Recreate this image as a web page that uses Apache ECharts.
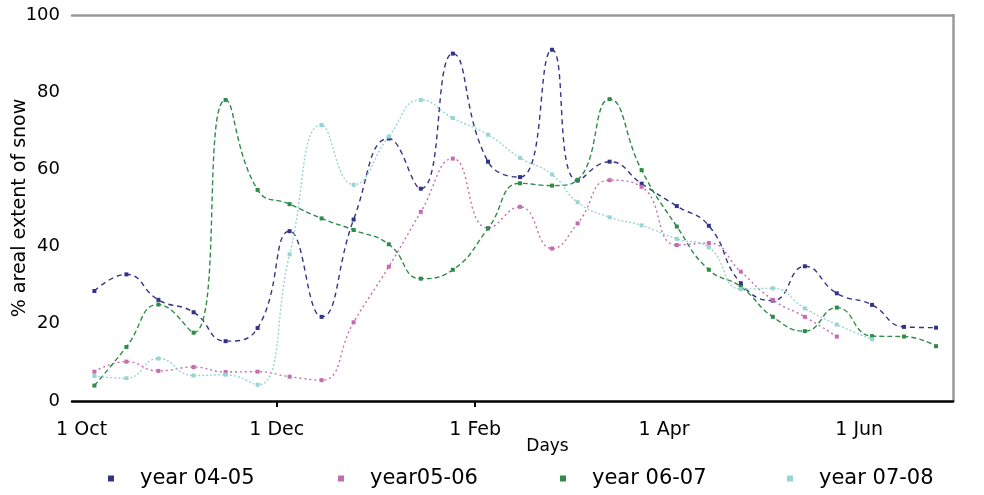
<!DOCTYPE html>
<html>
<head>
<meta charset="utf-8">
<script src="https://cdn.jsdelivr.net/npm/echarts@6/dist/echarts.min.js"></script>
<style>html,body{margin:0;padding:0;background:#fff}#c{width:984px;height:495px}</style>
</head>
<body>
<div id="c"></div>
<script>
// Dekad dates (day of month + month), Oct to Jun
const dates = ['5 Oct','15 Oct','25 Oct','5 Nov','15 Nov','25 Nov','5 Dec','15 Dec','25 Dec',
  '5 Jan','15 Jan','25 Jan','5 Feb','15 Feb','25 Feb','5 Mar','15 Mar','25 Mar',
  '5 Apr','15 Apr','25 Apr','5 May','15 May','25 May','5 Jun','15 Jun','25 Jun'];
const year0405 = [28.5,32.8,26.2,23,15.5,18.9,44,21.8,47,68,55,90,62,58,91,57.1,62,56.3,50.5,45.4,30.5,26,34.9,27.9,24.9,19.2,19];
const year0506 = [7.6,10.2,7.8,8.8,7.5,7.6,6.3,5.4,20.4,34.8,49,62.8,44.8,50.3,39.5,46,57.2,55.5,40.4,40.9,33.5,26.2,21.8,16.7,null,null,null];
const year0607 = [4,14,25,17.7,78,54.7,51,47.3,44.3,40.6,31.7,34,44.7,56.4,55.8,57.3,78.2,59.8,45.2,34,29.6,21.8,18.1,24.2,16.8,16.7,14.2];
const year0708 = [6.5,5.9,11,6.6,6.8,4.2,38,71.5,56,68.5,78,73.3,69,63,58.7,51.5,47.6,45.5,42,39.8,29,29.2,24,19.8,16,null,null];
const seriesNames = ['year 04-05','year05-06','year 06-07','year 07-08'];
const tickLabels = ['1 Oct','1 Dec','1 Feb','1 Apr','1 Jun'];
const yTicks = [0,20,40,60,80,100];

const months = ['Oct','Nov','Dec','Jan','Feb','Mar','Apr','May','Jun','Jul'];
const mlen = [31,30,31,31,28,31,30,31,30,31];
function dayOf(s){
  const p = s.split(' ');
  const d = parseInt(p[0],10), m = months.indexOf(p[1]);
  let t = 0; for(let i=0;i<m;i++) t += mlen[i];
  return t + d - 1;
}
const tickDays = tickLabels.map(dayOf);
function pts(vals){
  const out=[]; vals.forEach((v,i)=>{ if(v!==null) out.push([dayOf(dates[i]), v]); }); return out;
}
const colors = ['#333388','#c56cb0','#2f8b47','#98d4d4'];
const dashes = [[5,4],[2,3],[5,3],[2,2]];
const allVals = [year0405,year0506,year0607,year0708];
const F = 'DejaVu Sans';

const chart = echarts.init(document.getElementById('c'), null, {renderer:'canvas'});
const legendLefts = [103,333,555,782];
chart.setOption({
  animation:false,
  textStyle:{fontFamily:F},
  grid:{left:72,right:31,top:15,bottom:94,containLabel:false,outerBoundsMode:'none'},
  xAxis:[{
    type:'value', min:-3, max:272.3, position:'bottom',
    axisLine:{show:true,onZero:false,lineStyle:{color:'#000',width:2.5}},
    axisTick:{show:true,customValues:[tickDays[1],tickDays[2]],length:6,lineStyle:{color:'#000',width:2}},
    axisLabel:{customValues:tickDays,margin:20,fontSize:19,color:'#000',fontFamily:F,
      formatter:function(v){const i=tickDays.indexOf(Math.round(v));return i>=0?tickLabels[i]:'';}},
    splitLine:{show:false},
    name:'Days', nameLocation:'middle', nameGap:37, nameMoveOverlap:false,
    nameTextStyle:{fontSize:17,color:'#000',fontFamily:F,padding:[0,0,0,70]}
  },{
    type:'value', min:-3, max:272.3, position:'top',
    axisLine:{show:true,onZero:false,lineStyle:{color:'#999',width:2.5}},
    axisTick:{show:false}, axisLabel:{show:false}, splitLine:{show:false}
  }],
  yAxis:[{
    type:'value', min:0, max:100, interval:20,
    axisLine:{show:false,onZero:false}, axisTick:{show:false}, splitLine:{show:false},
    axisLabel:{margin:12,fontSize:18,color:'#000',fontFamily:F},
    name:'% areal extent of snow', nameLocation:'middle', nameGap:42, nameMoveOverlap:false,
    nameTextStyle:{fontSize:19,color:'#000',fontFamily:F}
  },{
    type:'value', min:0, max:100, position:'right',
    axisLine:{show:true,onZero:false,lineStyle:{color:'#999',width:2.5}},
    axisTick:{show:false}, axisLabel:{show:false}, splitLine:{show:false}
  }],
  legend: seriesNames.map((n,i)=>({
    data:[n], left:legendLefts[i], top:463, icon:'rect', itemWidth:6, itemHeight:6,
    textStyle:{fontSize:21,color:'#000',fontFamily:F,padding:[0,0,0,21]}
  })),
  series: seriesNames.map((n,i)=>({
    name:n, type:'line', xAxisIndex:0, yAxisIndex:0, smooth:0.5,
    data:pts(allVals[i]), symbol:'rect', symbolSize:4, showSymbol:true,
    itemStyle:{color:colors[i]},
    lineStyle:{color:colors[i],width:1.4,type:dashes[i]}
  }))
});
</script>
</body>
</html>
